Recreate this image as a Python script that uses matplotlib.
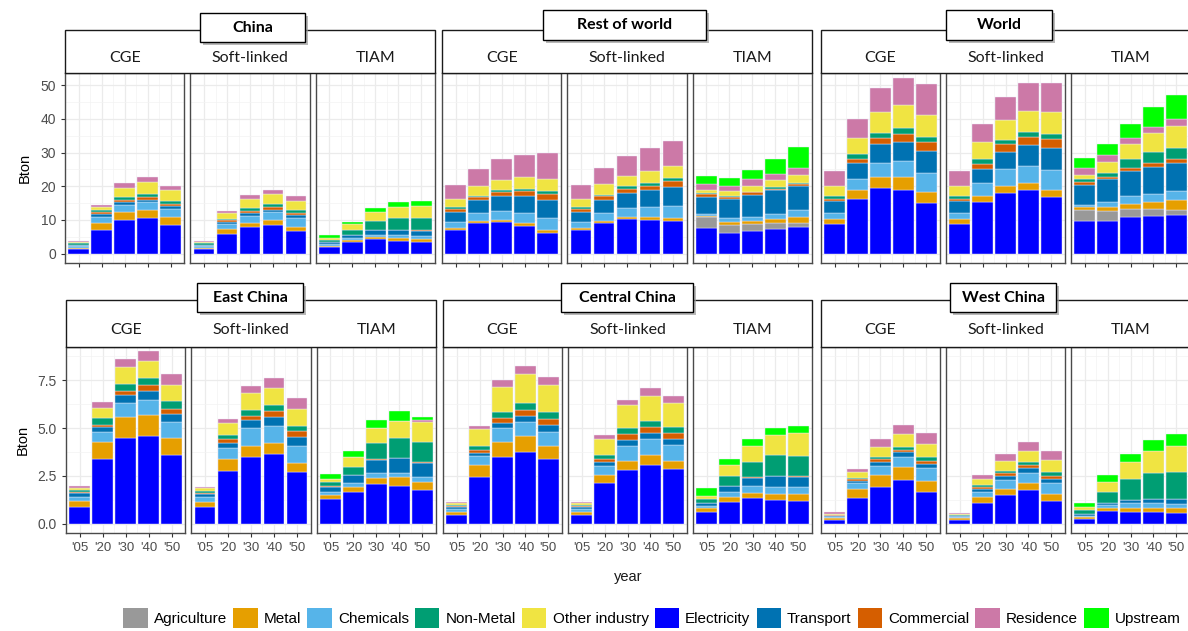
import numpy as np
import matplotlib
matplotlib.use("Agg")
import matplotlib.pyplot as plt
from matplotlib.patches import Rectangle, Patch

years = ["'05", "'20", "'30", "'40", "'50"]
models = ['CGE', 'Soft-linked', 'TIAM']

# legend order
sectors = ['Agriculture', 'Metal', 'Chemicals', 'Non-Metal', 'Other industry',
           'Electricity', 'Transport', 'Commercial', 'Residence', 'Upstream']
colors = {'Agriculture': '#999999', 'Metal': '#E69F00', 'Chemicals': '#56B4E9',
          'Non-Metal': '#009E73', 'Other industry': '#F0E442', 'Electricity': '#0000FF',
          'Transport': '#0072B2', 'Commercial': '#D55E00', 'Residence': '#CC79A7',
          'Upstream': '#00FF00'}
# stacking order, bottom to top
stack = ['Electricity', 'Agriculture', 'Metal', 'Chemicals', 'Transport',
         'Commercial', 'Non-Metal', 'Other industry', 'Residence', 'Upstream']

# values in Bton, one list per sector (years '05..'50)
china_cge = {
    'Electricity': [1.3, 7.0, 10.0, 10.7, 8.5],
    'Metal': [0.4, 2.2, 2.2, 2.3, 2.3],
    'Chemicals': [0.4, 1.8, 2.3, 2.2, 2.4],
    'Transport': [0.3, 0.8, 0.8, 0.8, 0.8],
    'Commercial': [0.2, 0.4, 0.5, 0.7, 0.7],
    'Non-Metal': [0.5, 0.6, 0.9, 1.1, 1.0],
    'Other industry': [0.4, 1.1, 2.8, 3.5, 3.1],
    'Residence': [0.3, 0.5, 1.3, 1.4, 1.4],
}
china_soft = {
    'Electricity': [1.3, 5.8, 7.8, 8.5, 6.8],
    'Metal': [0.4, 1.5, 1.2, 1.5, 1.2],
    'Chemicals': [0.4, 1.5, 2.2, 2.2, 2.5],
    'Transport': [0.3, 0.7, 0.8, 0.8, 0.8],
    'Commercial': [0.2, 0.5, 0.6, 0.7, 0.7],
    'Non-Metal': [0.5, 0.4, 1.0, 1.0, 0.9],
    'Other industry': [0.4, 1.6, 2.7, 3.0, 2.8],
    'Residence': [0.3, 0.5, 1.2, 1.3, 1.3],
}
china_tiam = {
    'Electricity': [2.0, 3.4, 4.2, 3.8, 3.5],
    'Metal': [0.3, 0.5, 0.6, 0.8, 0.9],
    'Chemicals': [0.4, 0.6, 0.8, 0.8, 0.8],
    'Transport': [0.6, 1.0, 1.3, 1.5, 1.6],
    'Commercial': [0.0, 0.1, 0.1, 0.1, 0.1],
    'Non-Metal': [0.7, 1.5, 2.7, 3.5, 3.8],
    'Other industry': [0.7, 1.6, 2.5, 3.3, 3.5],
    'Upstream': [0.8, 0.8, 1.3, 1.4, 1.5],
}
row_cge = {
    'Electricity': [7.0, 9.0, 9.3, 8.2, 6.2],
    'Metal': [0.6, 0.7, 0.7, 0.8, 0.8],
    'Chemicals': [1.8, 2.3, 2.5, 3.0, 3.6],
    'Transport': [3.0, 3.8, 4.5, 5.0, 5.4],
    'Commercial': [0.8, 0.9, 1.2, 1.5, 1.8],
    'Non-Metal': [0.5, 0.5, 0.6, 0.7, 0.8],
    'Other industry': [2.6, 2.9, 3.0, 3.4, 3.6],
    'Residence': [4.0, 5.0, 6.2, 6.6, 7.7],
}
row_soft = {
    'Electricity': [7.0, 9.2, 10.2, 10.0, 9.8],
    'Metal': [0.6, 0.6, 0.7, 0.8, 0.9],
    'Chemicals': [1.8, 2.2, 2.5, 3.0, 3.5],
    'Transport': [3.0, 3.8, 4.6, 5.0, 5.5],
    'Commercial': [0.8, 1.2, 1.3, 1.4, 1.8],
    'Non-Metal': [0.5, 0.5, 0.7, 0.8, 0.8],
    'Other industry': [2.6, 3.1, 3.0, 3.5, 3.7],
    'Residence': [4.0, 4.9, 6.0, 6.9, 7.4],
}
row_tiam = {
    'Electricity': [7.5, 6.2, 6.8, 7.3, 7.8],
    'Agriculture': [3.4, 2.3, 2.0, 1.7, 1.4],
    'Metal': [0.2, 1.0, 1.0, 1.3, 1.8],
    'Chemicals': [0.5, 1.0, 1.2, 1.5, 2.0],
    'Transport': [5.3, 5.7, 6.5, 7.0, 7.0],
    'Commercial': [0.8, 0.5, 0.7, 0.5, 0.7],
    'Non-Metal': [0.3, 0.3, 0.2, 0.5, 0.3],
    'Other industry': [1.0, 1.5, 1.8, 1.9, 2.2],
    'Residence': [1.7, 1.7, 1.8, 1.8, 2.3],
    'Upstream': [2.2, 2.2, 2.8, 4.5, 6.0],
}
world_cge = {
    'Electricity': [8.8, 16.2, 19.6, 19.0, 15.0],
    'Metal': [1.4, 2.8, 3.2, 3.6, 3.4],
    'Chemicals': [1.8, 3.2, 4.2, 4.9, 5.4],
    'Transport': [3.5, 4.6, 5.4, 5.7, 6.6],
    'Commercial': [0.7, 1.4, 1.8, 2.3, 2.6],
    'Non-Metal': [0.8, 1.5, 1.6, 1.7, 1.5],
    'Other industry': [3.2, 4.6, 6.2, 6.8, 6.7],
    'Residence': [4.3, 5.7, 7.0, 8.2, 9.1],
}
world_soft = {
    'Electricity': [8.8, 15.2, 18.0, 18.8, 16.8],
    'Metal': [1.4, 2.0, 2.0, 2.0, 2.0],
    'Chemicals': [1.8, 3.8, 5.0, 5.2, 6.0],
    'Transport': [3.5, 4.2, 5.2, 6.2, 6.4],
    'Commercial': [0.7, 1.5, 2.2, 2.4, 2.9],
    'Non-Metal': [0.8, 1.3, 1.4, 1.6, 1.5],
    'Other industry': [3.2, 5.0, 5.9, 6.2, 6.4],
    'Residence': [4.3, 5.5, 6.8, 8.1, 8.7],
}
world_tiam = {
    'Electricity': [9.8, 9.8, 10.8, 11.2, 11.5],
    'Agriculture': [3.0, 2.7, 2.4, 2.0, 1.5],
    'Metal': [1.0, 1.3, 1.6, 2.1, 3.0],
    'Chemicals': [0.7, 1.4, 2.2, 2.5, 2.5],
    'Transport': [6.0, 6.8, 7.5, 8.0, 8.5],
    'Commercial': [0.8, 0.6, 1.0, 1.0, 1.0],
    'Non-Metal': [0.9, 1.4, 2.7, 3.4, 3.3],
    'Other industry': [1.2, 3.2, 4.4, 5.6, 6.5],
    'Residence': [2.0, 2.0, 1.8, 1.9, 2.2],
    'Upstream': [3.1, 3.2, 4.1, 5.9, 7.2],
}
east_cge = {
    'Electricity': [0.9, 3.37, 4.46, 4.6, 3.59],
    'Metal': [0.28, 0.92, 1.09, 1.08, 0.9],
    'Chemicals': [0.25, 0.49, 0.73, 0.78, 0.83],
    'Transport': [0.17, 0.26, 0.43, 0.47, 0.43],
    'Commercial': [0.05, 0.12, 0.23, 0.3, 0.26],
    'Non-Metal': [0.1, 0.35, 0.35, 0.36, 0.38],
    'Other industry': [0.15, 0.55, 0.87, 0.9, 0.87],
    'Residence': [0.1, 0.28, 0.42, 0.52, 0.57],
}
east_soft = {
    'Electricity': [0.9, 2.76, 3.5, 3.65, 2.71],
    'Metal': [0.27, 0.61, 0.56, 0.56, 0.49],
    'Chemicals': [0.24, 0.57, 0.92, 0.87, 0.87],
    'Transport': [0.16, 0.3, 0.43, 0.49, 0.45],
    'Commercial': [0.05, 0.17, 0.21, 0.3, 0.3],
    'Non-Metal': [0.1, 0.23, 0.31, 0.31, 0.31],
    'Other industry': [0.14, 0.61, 0.87, 0.9, 0.85],
    'Residence': [0.09, 0.24, 0.4, 0.52, 0.57],
}
east_tiam = {
    'Electricity': [1.3, 1.68, 2.07, 2.0, 1.75],
    'Metal': [0.2, 0.26, 0.35, 0.47, 0.45],
    'Chemicals': [0.14, 0.17, 0.23, 0.21, 0.23],
    'Transport': [0.3, 0.43, 0.69, 0.75, 0.76],
    'Commercial': [0.02, 0.03, 0.03, 0.03, 0.03],
    'Non-Metal': [0.25, 0.4, 0.84, 1.01, 1.06],
    'Other industry': [0.12, 0.52, 0.78, 0.92, 1.04],
    'Residence': [0.0, 0.0, 0.0, 0.0, 0.1],
    'Upstream': [0.25, 0.31, 0.43, 0.5, 0.17],
}
central_cge = {
    'Electricity': [0.47, 2.47, 3.47, 3.75, 3.37],
    'Metal': [0.17, 0.61, 0.82, 0.83, 0.69],
    'Chemicals': [0.14, 0.47, 0.69, 0.75, 0.75],
    'Transport': [0.12, 0.14, 0.26, 0.31, 0.35],
    'Commercial': [0.04, 0.14, 0.26, 0.3, 0.3],
    'Non-Metal': [0.05, 0.24, 0.35, 0.38, 0.35],
    'Other industry': [0.09, 0.87, 1.3, 1.48, 1.41],
    'Residence': [0.09, 0.17, 0.35, 0.43, 0.42],
}
central_soft = {
    'Electricity': [0.47, 2.12, 2.81, 3.07, 2.86],
    'Metal': [0.17, 0.43, 0.49, 0.52, 0.43],
    'Chemicals': [0.14, 0.47, 0.76, 0.82, 0.82],
    'Transport': [0.12, 0.19, 0.31, 0.35, 0.31],
    'Commercial': [0.04, 0.16, 0.3, 0.28, 0.33],
    'Non-Metal': [0.05, 0.23, 0.31, 0.35, 0.31],
    'Other industry': [0.09, 0.82, 1.22, 1.3, 1.22],
    'Residence': [0.08, 0.23, 0.26, 0.38, 0.38],
}
central_tiam = {
    'Electricity': [0.64, 1.16, 1.34, 1.25, 1.2],
    'Metal': [0.17, 0.23, 0.26, 0.31, 0.35],
    'Chemicals': [0.14, 0.3, 0.4, 0.38, 0.4],
    'Transport': [0.12, 0.3, 0.42, 0.56, 0.52],
    'Commercial': [0.01, 0.01, 0.02, 0.02, 0.02],
    'Non-Metal': [0.21, 0.49, 0.81, 1.07, 1.06],
    'Other industry': [0.19, 0.56, 0.82, 1.04, 1.18],
    'Upstream': [0.38, 0.36, 0.37, 0.35, 0.4],
}
west_cge = {
    'Electricity': [0.21, 1.34, 1.94, 2.29, 1.65],
    'Metal': [0.12, 0.47, 0.61, 0.66, 0.61],
    'Chemicals': [0.05, 0.31, 0.47, 0.52, 0.64],
    'Transport': [0.05, 0.1, 0.21, 0.26, 0.23],
    'Commercial': [0.02, 0.1, 0.14, 0.12, 0.17],
    'Non-Metal': [0.03, 0.07, 0.14, 0.17, 0.21],
    'Other industry': [0.05, 0.33, 0.52, 0.69, 0.66],
    'Residence': [0.07, 0.17, 0.4, 0.47, 0.56],
}
west_soft = {
    'Electricity': [0.2, 1.08, 1.49, 1.77, 1.22],
    'Metal': [0.12, 0.31, 0.33, 0.35, 0.35],
    'Chemicals': [0.05, 0.3, 0.47, 0.56, 0.59],
    'Transport': [0.05, 0.12, 0.21, 0.23, 0.17],
    'Commercial': [0.02, 0.1, 0.14, 0.14, 0.17],
    'Non-Metal': [0.03, 0.1, 0.14, 0.16, 0.19],
    'Other industry': [0.05, 0.31, 0.52, 0.61, 0.64],
    'Residence': [0.06, 0.23, 0.33, 0.45, 0.47],
}
west_tiam = {
    'Electricity': [0.24, 0.68, 0.64, 0.64, 0.59],
    'Metal': [0.1, 0.14, 0.17, 0.21, 0.23],
    'Chemicals': [0.07, 0.17, 0.26, 0.23, 0.23],
    'Transport': [0.09, 0.09, 0.17, 0.21, 0.24],
    'Commercial': [0.0, 0.0, 0.0, 0.02, 0.0],
    'Non-Metal': [0.23, 0.56, 1.08, 1.33, 1.44],
    'Other industry': [0.17, 0.57, 0.92, 1.18, 1.34],
    'Upstream': [0.17, 0.35, 0.43, 0.56, 0.63],
}

regions_top = ['China', 'Rest of world', 'World']
regions_bot = ['East China', 'Central China', 'West China']
data = {
    'China': [china_cge, china_soft, china_tiam],
    'Rest of world': [row_cge, row_soft, row_tiam],
    'World': [world_cge, world_soft, world_tiam],
    'East China': [east_cge, east_soft, east_tiam],
    'Central China': [central_cge, central_soft, central_tiam],
    'West China': [west_cge, west_soft, west_tiam],
}

W, H = 1188, 631
fig = plt.figure(figsize=(W / 100, H / 100), dpi=100)
tick_font = 'Liberation Sans'
strip_font = 'Lato'

# layout in pixels
groups_top = [(65, 435), (442, 812), (821, 1190)]
groups_bot = [(66, 436), (443, 812), (821, 1190)]
title_top = [(200, 305, 13, 42), (543, 706, 10, 40), (946, 1052, 10, 40)]
title_bot = [(197, 303, 283, 312), (561, 693, 283, 312), (950, 1056, 283, 312)]
rows = [
    dict(regions=regions_top, groups=groups_top, titles=title_top,
         strip=(30, 73), panel=(73, 263), ylim=(-2.8, 53.6),
         yticks=[0, 10, 20, 30, 40, 50], ytl=['0', '10', '20', '30', '40', '50'],
         minor=[5, 15, 25, 35, 45], xlabels=False),
    dict(regions=regions_bot, groups=groups_bot, titles=title_bot,
         strip=(300, 347), panel=(347, 533), ylim=(-0.47, 9.22),
         yticks=[0, 2.5, 5.0, 7.5], ytl=['0.0', '2.5', '5.0', '7.5'],
         minor=[1.25, 3.75, 6.25, 8.75], xlabels=True),
]


def px_axes(x0, x1, y0, y1):
    return fig.add_axes([x0 / W, 1 - y1 / H, (x1 - x0) / W, (y1 - y0) / H])


x = np.arange(len(years))
gap = 6
for row in rows:
    for gi, region in enumerate(row['regions']):
        L, R = row['groups'][gi]
        fw = (R - L - 2 * gap) / 3
        for mi in range(3):
            fx0 = L + mi * (fw + gap)
            ax = px_axes(fx0, fx0 + fw, row['panel'][0], row['panel'][1])
            ax.set_xlim(-0.6, 4.6)
            ax.set_ylim(*row['ylim'])
            ax.set_yticks(row['yticks'])
            ax.set_yticks(row['minor'], minor=True)
            ax.set_xticks(x)
            ax.set_xticks(x[:-1] + 0.5, minor=True)
            ax.grid(which='major', color='#EBEBEB', lw=0.9)
            ax.grid(which='minor', color='#F3F3F3', lw=0.5)
            ax.set_axisbelow(True)
            vals = data[region][mi]
            bottom = np.zeros(len(years))
            for s in stack:
                if s not in vals:
                    continue
                v = np.array(vals[s])
                ax.bar(x, v, bottom=bottom, width=0.9, color=colors[s],
                       edgecolor='#ECEBFA', linewidth=0.3)
                bottom += v
            for sp in ax.spines.values():
                sp.set_color('#4a4a4a')
                sp.set_linewidth(1.0)
            ax.tick_params(which='minor', length=0)
            ax.tick_params(axis='both', which='major', color='#333333', length=3,
                           labelsize=9.5, labelcolor='#4D4D4D')
            if row['xlabels']:
                ax.set_xticklabels(years, fontfamily=tick_font)
            else:
                ax.set_xticklabels([])
            if gi == 0 and mi == 0:
                ax.set_yticklabels(row['ytl'], fontfamily=tick_font, fontsize=10)
                ax.set_ylabel('Bton', fontfamily=tick_font, fontsize=10.5,
                              labelpad=6)
            else:
                ax.tick_params(axis='y', length=0)
                ax.set_yticklabels([])

# overlay for strips and title boxes
ov = fig.add_axes([0, 0, 1, 1], zorder=10)
ov.set_xlim(0, W)
ov.set_ylim(H, 0)
ov.axis('off')
ov.patch.set_alpha(0)
for row in rows:
    st0, st1 = row['strip']
    for gi, region in enumerate(row['regions']):
        L, R = row['groups'][gi]
        fw = (R - L - 2 * gap) / 3
        ov.add_patch(Rectangle((L, st0), R - L, st1 - st0, facecolor='white',
                               edgecolor='#1a1a1a', lw=1.0))
        for mi, m in enumerate(models):
            cx = L + mi * (fw + gap) + fw / 2
            ov.text(cx, (st0 + st1) / 2 + 6, m, ha='center', va='center',
                    fontsize=11.5, fontfamily=strip_font, color='#1a1a1a')
        tx0, tx1, ty0, ty1 = row['titles'][gi]
        ov.add_patch(Rectangle((tx0 + 3, ty0 + 3), tx1 - tx0, ty1 - ty0,
                               facecolor='#9a9a9a', edgecolor='none', alpha=0.7))
        ov.add_patch(Rectangle((tx0, ty0), tx1 - tx0, ty1 - ty0, facecolor='white',
                               edgecolor='black', lw=1.0))
        ov.text((tx0 + tx1) / 2, (ty0 + ty1) / 2, region, ha='center', va='center',
                fontsize=11.5, fontweight='bold', fontfamily=strip_font)

ov.text(628, 577, 'year', ha='center', va='center', fontsize=10.5,
        fontfamily=tick_font, color='#1a1a1a')

handles = [Patch(facecolor=colors[s], edgecolor='none', label=s) for s in sectors]
fig.legend(handles=handles, loc='center', bbox_to_anchor=(652 / W, 1 - 618 / H),
           ncol=10, frameon=False, handlelength=1.6, handleheight=1.6,
           handletextpad=0.4, columnspacing=0.4, borderpad=0.1,
           prop={'family': tick_font, 'size': 11})

fig.savefig('out.png', dpi=100)
